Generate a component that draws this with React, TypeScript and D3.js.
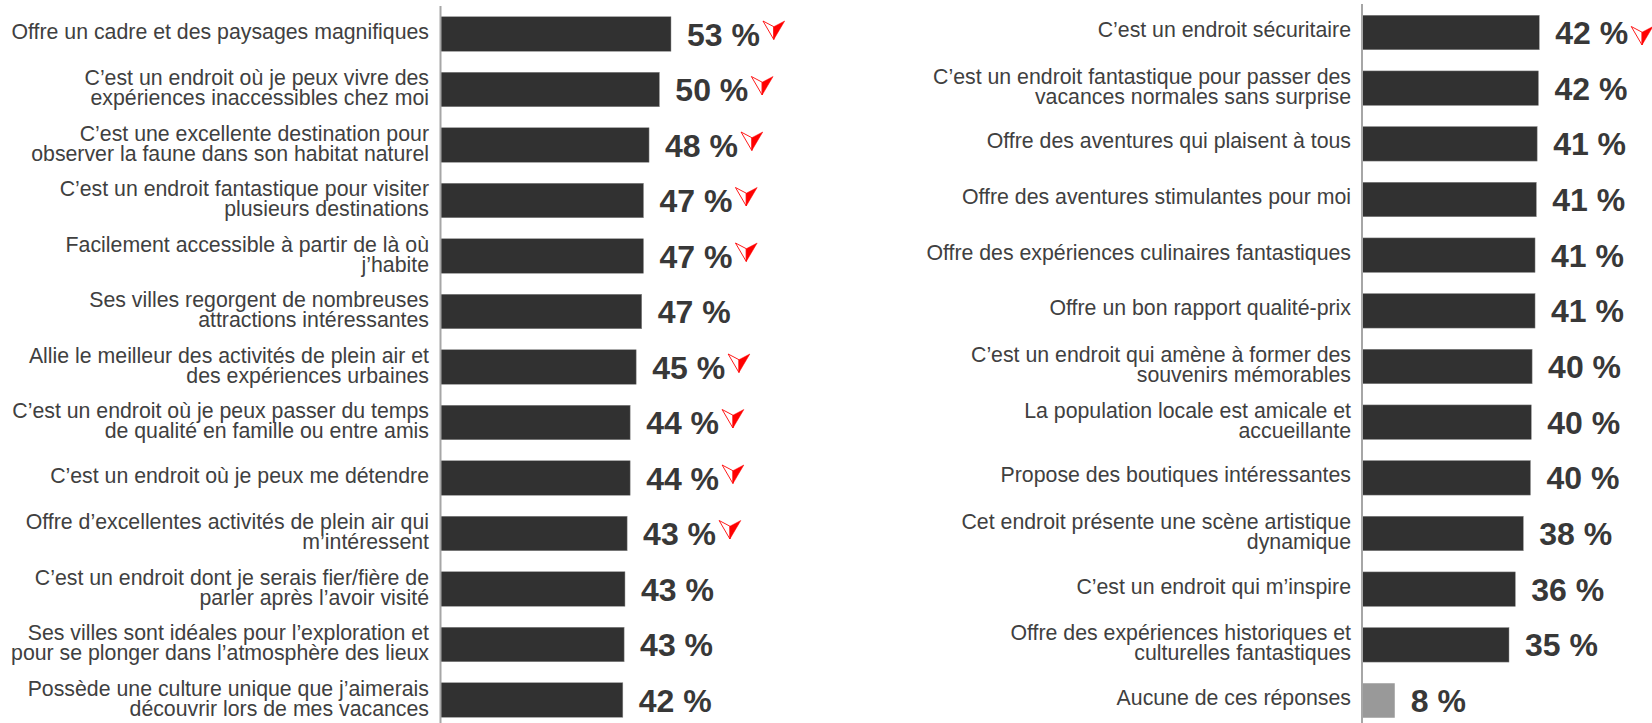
import React from "react";
import * as d3 from "d3";

const leftCategories: string[][] = [
  ["Offre un cadre et des paysages magnifiques"],
  ["C’est un endroit où je peux vivre des", "expériences inaccessibles chez moi"],
  ["C’est une excellente destination pour", "observer la faune dans son habitat naturel"],
  ["C’est un endroit fantastique pour visiter", "plusieurs destinations"],
  ["Facilement accessible à partir de là où", "j’habite"],
  ["Ses villes regorgent de nombreuses", "attractions intéressantes"],
  ["Allie le meilleur des activités de plein air et", "des expériences urbaines"],
  ["C’est un endroit où je peux passer du temps", "de qualité en famille ou entre amis"],
  ["C’est un endroit où je peux me détendre"],
  ["Offre d’excellentes activités de plein air qui", "m’intéressent"],
  ["C’est un endroit dont je serais fier/fière de", "parler après l’avoir visité"],
  ["Ses villes sont idéales pour l’exploration et", "pour se plonger dans l’atmosphère des lieux"],
  ["Possède une culture unique que j’aimerais", "découvrir lors de mes vacances"],
];
const leftValues = [53.6, 50.9, 48.5, 47.2, 47.2, 46.8, 45.5, 44.1, 44.1, 43.4, 42.9, 42.7, 42.4];
const leftLabels = ["53 %", "50 %", "48 %", "47 %", "47 %", "47 %", "45 %", "44 %", "44 %", "43 %", "43 %", "43 %", "42 %"];
const leftFlags = [1, 1, 1, 1, 1, 0, 1, 1, 1, 1, 0, 0, 0];

const rightCategories: string[][] = [
  ["C’est un endroit sécuritaire"],
  ["C’est un endroit fantastique pour passer des", "vacances normales sans surprise"],
  ["Offre des aventures qui plaisent à tous"],
  ["Offre des aventures stimulantes pour moi"],
  ["Offre des expériences culinaires fantastiques"],
  ["Offre un bon rapport qualité-prix"],
  ["C’est un endroit qui amène à former des", "souvenirs mémorables"],
  ["La population locale est amicale et", "accueillante"],
  ["Propose des boutiques intéressantes"],
  ["Cet endroit présente une scène artistique", "dynamique"],
  ["C’est un endroit qui m’inspire"],
  ["Offre des expériences historiques et", "culturelles fantastiques"],
  ["Aucune de ces réponses"],
];
const rightValues = [42.2, 42, 41.7, 41.5, 41.2, 41.2, 40.5, 40.3, 40.1, 38.4, 36.5, 35, 7.8];
const rightLabels = ["42 %", "42 %", "41 %", "41 %", "41 %", "41 %", "40 %", "40 %", "40 %", "38 %", "36 %", "35 %", "8 %"];
const rightFlags = [1, 0, 0, 0, 0, 0, 0, 0, 0, 0, 0, 0, 0];
const rightGrey = [0, 0, 0, 0, 0, 0, 0, 0, 0, 0, 0, 0, 1];

const FONT = "'Liberation Sans', Arial, sans-serif";
const TEXT = "#404040";

function Arrow({ x, y }: { x: number; y: number }) {
  // left half outlined, right half filled, with a notch on the top edge
  return (
    <g transform={`translate(${x},${y})`}>
      <path d="M0,0 L10.8,5.7 L10.8,18.5 Z" fill="#fff" stroke="#ff0000" strokeWidth={0.9} />
      <path d="M21.7,0 L10.8,5.7 L10.8,18.5 Z" fill="#ff0000" stroke="#ff0000" strokeWidth={0.5} />
    </g>
  );
}

function Panel(props: {
  axisX: number; axisTop: number; firstY: number; lastY: number; perPct: number; labelRight: number;
  cats: string[][]; vals: number[]; labels: string[]; flags: number[]; grey?: number[]; arrowDy: number;
}) {
  const { axisX, axisTop, firstY, lastY, perPct, labelRight, cats, vals, labels, flags, grey, arrowDy } = props;
  const y = d3.scalePoint<number>().domain(d3.range(cats.length)).range([firstY, lastY]);
  const x = d3.scaleLinear().domain([0, 100]).range([axisX, axisX + perPct * 100]);
  const barH = 34.5;
  return (
    <g>
      {cats.map((lines, i) => {
        const cy = y(i) as number;
        const end = x(vals[i]);
        const lh = 20;
        const start = lines.length > 1 ? cy + 5.5 - lh / 2 : cy + 4.5;
        const isGrey = grey && grey[i];
        return (
          <g key={i}>
            <rect x={axisX} y={cy - barH / 2} width={end - axisX} height={barH}
              fill={isGrey ? "#999999" : "#313131"} stroke={isGrey ? "none" : "#8a8a8a"} strokeWidth={0.5} />
            <text textAnchor="end" fontFamily={FONT} fontSize={21.3} fill={TEXT}>
              {lines.map((l, k) => (
                <tspan key={k} x={labelRight} y={start + k * lh}>{l}</tspan>
              ))}
            </text>
            <text x={end + 16} y={cy + 11.5} fontFamily={FONT} fontWeight="bold" fontSize={32} fill="#383838">
              {labels[i]}
            </text>
            {flags[i] ? <Arrow x={end + 16 + 76} y={cy - 9.5 + arrowDy} /> : null}
          </g>
        );
      })}
      <line x1={axisX} x2={axisX} y1={axisTop} y2={723} stroke="#a6a6a6" strokeWidth={2} />
    </g>
  );
}

export default function App() {
  return (
    <svg width={1652} height={723} style={{ position: "absolute", left: 0, top: 0, display: "block", background: "#fff" }}>
      <Panel axisX={440.5} axisTop={6} firstY={34} lastY={700} perPct={4.3} labelRight={429}
        cats={leftCategories} vals={leftValues} labels={leftLabels} flags={leftFlags} arrowDy={-3.5} />
      <Panel axisX={1362} axisTop={4} firstY={32.5} lastY={700.5} perPct={4.2} labelRight={1351}
        cats={rightCategories} vals={rightValues} labels={rightLabels} flags={rightFlags} grey={rightGrey} arrowDy={3.5} />
    </svg>
  );
}
